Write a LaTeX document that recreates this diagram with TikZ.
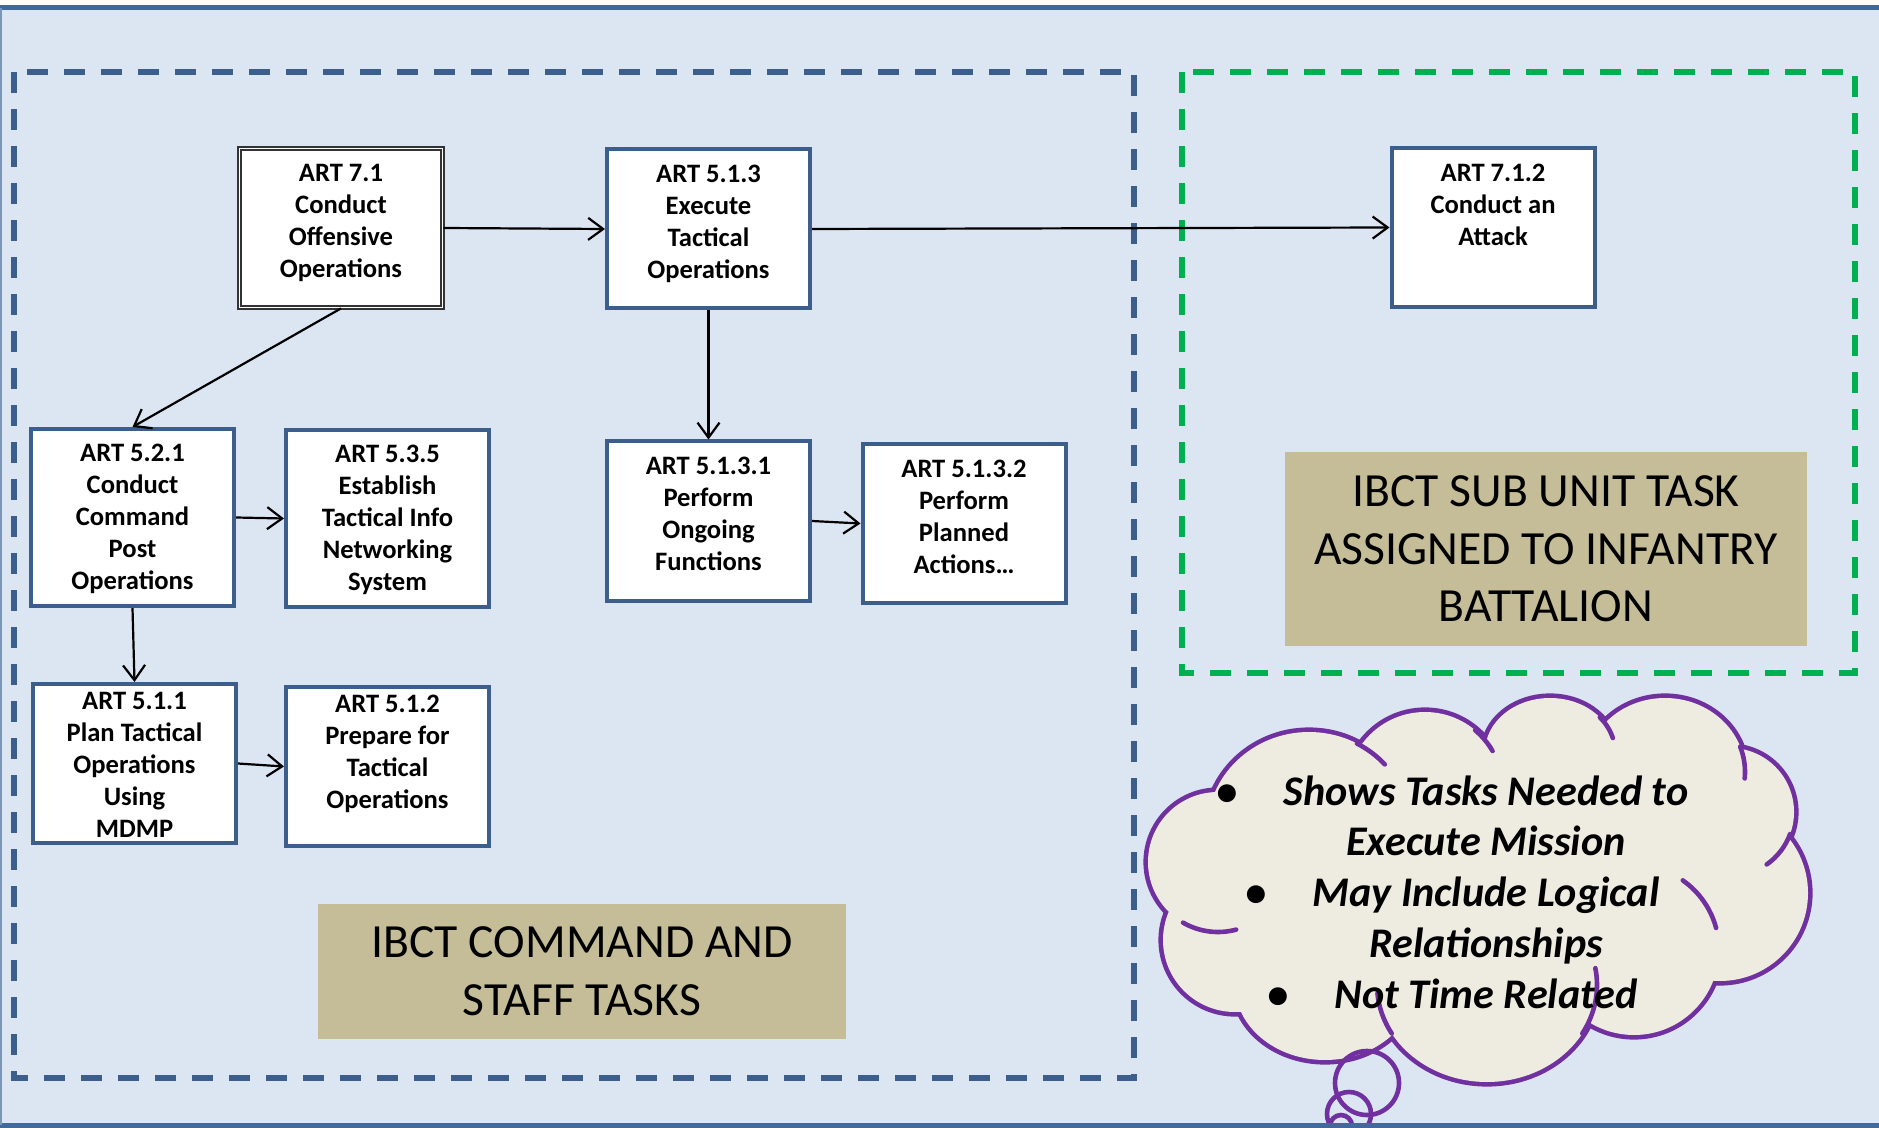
\documentclass[tikz,border=0pt]{standalone}
\usepackage{fontspec}
\setmainfont{Carlito}
\usetikzlibrary{arrows.meta,calc}

\definecolor{bgblue}{HTML}{DCE6F2}
\definecolor{frameblue}{HTML}{41699C}
\definecolor{boxblue}{HTML}{3B5E8C}
\definecolor{dashgreen}{HTML}{00B050}
\definecolor{tanfill}{HTML}{C4BD97}
\definecolor{cloudfill}{HTML}{EEECE1}
\definecolor{cloudline}{HTML}{7030A0}

% bullet hanging to the left of a centred line
\newcommand{\hangbullet}{\llap{\textbullet\hspace{23pt}}}

\begin{document}
\begin{tikzpicture}[x=0.5pt,y=-0.5pt,
  taskbox/.style={draw=boxblue, line width=2pt, fill=white, inner sep=0pt,
    minimum width=101.5pt, minimum height=79.5pt},
  tallbox/.style={taskbox, minimum height=88.5pt},
  doublebox/.style={taskbox, draw=black!80, line width=0.9pt, double=white,
    double distance=0.9pt},
  tasktext/.style={font=\fontsize{13.3}{16}\selectfont\bfseries, align=center,
    anchor=north, inner sep=0pt},
  tanlabel/.style={fill=tanfill, inner sep=0pt, align=center,
    font=\fontsize{23.8}{28.8}\selectfont},
  link/.style={draw=black, line width=1.1pt,
    -{Straight Barb[length=7.5pt,width=11pt,line width=1.1pt]}},
  groupline/.style={line width=2.6pt, dash pattern=on 10.5pt off 8pt},
  cloudtext/.style={font=\fontsize{21.1}{25.4}\selectfont\bfseries\itshape,
    align=center, inner sep=0pt},
  puffline/.style={draw=cloudline, line width=2.3pt, line cap=round},
]
\useasboundingbox (0,0) rectangle (1879,1128);
\clip (0,0) rectangle (1879,1128);

% page background
\fill[white] (0,0) rectangle (1879,1128);
\fill[bgblue] (0,8) rectangle (1879,1125);

% group outlines
\draw[groupline, draw=boxblue] (14,72) rectangle (1134,1078);
\draw[groupline, draw=dashgreen] (1182,72) rectangle (1855,673);

% group captions
\node[tanlabel, minimum width=264pt, minimum height=67.5pt] (lblcmd) at (582,971.5)
  {IBCT COMMAND AND\\STAFF TASKS};
\node[tanlabel, minimum width=261pt, minimum height=97pt] (lblsub) at (1546,549)
  {IBCT SUB UNIT TASK\\ASSIGNED TO INFANTRY\\BATTALION};

% task boxes
\node[doublebox] (a71)   at (341,228)    {};
\node[taskbox]   (a513)  at (708.5,229)  {};
\node[taskbox]   (a712)  at (1493,227.5) {};
\node[tallbox]   (a521)  at (132.5,517.5) {};
\node[tallbox]   (a535)  at (387.5,518.5) {};
\node[taskbox]   (a5131) at (708.5,521)  {};
\node[taskbox]   (a5132) at (964,523.5)  {};
\node[taskbox]   (a511)  at (134.5,763.5) {};
\node[taskbox]   (a512)  at (387.5,766.5) {};

% task texts
\node[tasktext] (a71t)   at ($(a71.north)+(0,16)$)   {ART 7.1\\Conduct\\Offensive\\Operations};
\node[tasktext] (a513t)  at ($(a513.north)+(0,17.5)$) {ART 5.1.3\\Execute\\Tactical\\Operations};
\node[tasktext] (a712t)  at ($(a712.north)+(0,17.5)$) {ART 7.1.2\\Conduct an\\Attack};
\node[tasktext] (a521t)  at ($(a521.north)+(0,17)$)  {ART 5.2.1\\Conduct\\Command\\Post\\Operations};
\node[tasktext] (a535t)  at ($(a535.north)+(0,17)$)  {ART 5.3.5\\Establish\\Tactical Info\\Networking\\System};
\node[tasktext] (a5131t) at ($(a5131.north)+(0,17)$) {ART 5.1.3.1\\Perform\\Ongoing\\Functions};
\node[tasktext] (a5132t) at ($(a5132.north)+(0,17.5)$) {ART 5.1.3.2\\Perform\\Planned\\Actions\ldots};
\node[tasktext] (a511t)  at ($(a511.north)+(0,10)$)  {ART 5.1.1\\Plan Tactical\\Operations\\Using\\MDMP};
\node[tasktext] (a512t)  at ($(a512.north)+(0,10)$)  {ART 5.1.2\\Prepare for\\Tactical\\Operations};

% connectors
\draw[link] (a71.east)   -- (a513.west);
\draw[link] (a513.east)  -- (a712.west);
\draw[link] (a71.south)  -- (a521.north);
\draw[link] (a513.south) -- (a5131.north);
\draw[link] (a521.east)  -- (a535.west);
\draw[link] (a521.south) -- (a511.north);
\draw[link] (a511.east)  -- (a512.west);
\draw[link] (a5131.east) -- (a5132.west);

% thought cloud: union of puffs, outlined
\def\puffs{1309/830/102/98, 1425/790/78/78, 1550/752/65/54, 1665/772/80/74,
  1730/812/64/64, 1720/893/88/88, 1634/950/85/85, 1487/985/110/97,
  1325/985/90/75, 1235/940/72/72, 1218/862/70/70}
\foreach \cx/\cy/\rx/\ry in \puffs
  \draw[draw=cloudline, line width=4.6pt] (\cx,\cy) ellipse [x radius=\rx, y radius=\ry];
\foreach \cx/\cy/\rx/\ry in \puffs
  \fill[cloudfill] (\cx,\cy) ellipse [x radius=\rx, y radius=\ry];
\fill[cloudfill] (1480,880) ellipse [x radius=260, y radius=140];

% inner arc strokes of the cloud
\foreach \cx/\cy/\rx/\ry/\sa/\ea in {1309/830/102/98/-62/-42, 1425/790/78/78/-50/-30,
  1550/752/65/54/-40/-15, 1665/772/80/74/-20/5, 1730/812/64/64/20/55,
  1634/950/85/85/-55/-15, 1487/985/110/97/-10/30, 1487/985/110/97/150/175,
  1218/862/70/70/75/120}
  \draw[puffline] ({\cx+\rx*cos(\sa)},{\cy+\ry*sin(\sa)})
    arc[start angle=\sa, end angle=\ea, x radius=\rx, y radius=\ry];

\node[cloudtext] (cloudtxt) at (1486,892)
  {\hangbullet Shows Tasks Needed to\\Execute Mission\\
   \hangbullet May Include Logical\\Relationships\\
   \hangbullet Not Time Related};

% thought bubbles below the cloud
\draw[puffline] (1367,1083) circle [radius=32];
\draw[puffline] (1349,1114) circle [radius=22];
\draw[puffline] (1341,1126) circle [radius=11];

% page frame
\fill[frameblue] (0,5) rectangle (1879,10);
\fill[frameblue] (0,1123) rectangle (1879,1128);
\fill[frameblue!70] (0,8) rectangle (2,1125);
\end{tikzpicture}
\end{document}
